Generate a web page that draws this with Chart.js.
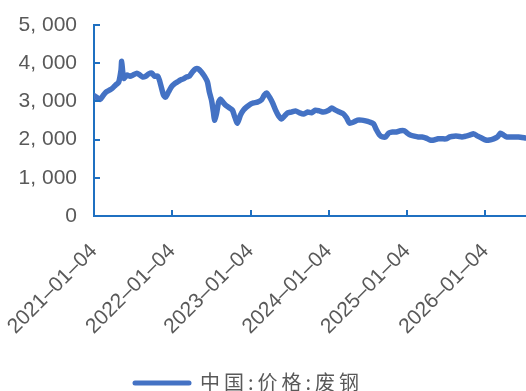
<!DOCTYPE html>
<html>
<head>
<meta charset="utf-8">
<script src="https://cdn.jsdelivr.net/npm/chart.js@4.4.1/dist/chart.umd.min.js"></script>
<style>
  html, body { margin: 0; padding: 0; background: #fff; }
  #wrap { width: 526px; height: 391px; }
</style>
</head>
<body>
<div id="wrap"><canvas id="chart"></canvas></div>
<script>
const seriesName = '中国:价格:废钢';

const dates = [
  '2021-01-04', '2021-01-18', '2021-02-01', '2021-02-15', '2021-03-01', '2021-03-19',
  '2021-04-01', '2021-04-15', '2021-04-29', '2021-05-10', '2021-05-13', '2021-05-18',
  '2021-05-24', '2021-06-07', '2021-06-21', '2021-07-05', '2021-07-23', '2021-08-06',
  '2021-08-19', '2021-09-02', '2021-09-16', '2021-09-30', '2021-10-14', '2021-10-28',
  '2021-11-05', '2021-11-15', '2021-11-24', '2021-12-03', '2021-12-17', '2021-12-31',
  '2022-01-14', '2022-01-28', '2022-02-11', '2022-02-25', '2022-03-11', '2022-03-25',
  '2022-04-08', '2022-04-22', '2022-05-06', '2022-05-20', '2022-06-03', '2022-06-17',
  '2022-06-26', '2022-07-06', '2022-07-15', '2022-07-20', '2022-07-29', '2022-08-08',
  '2022-08-17', '2022-08-31', '2022-09-14', '2022-09-28', '2022-10-12', '2022-10-21',
  '2022-11-04', '2022-11-18', '2022-12-02', '2022-12-16', '2023-01-04', '2023-01-18',
  '2023-02-05', '2023-02-24', '2023-03-10', '2023-03-20', '2023-04-03', '2023-04-17',
  '2023-05-01', '2023-05-15', '2023-05-29', '2023-06-12', '2023-06-26', '2023-07-14',
  '2023-08-02', '2023-08-21', '2023-09-08', '2023-09-27', '2023-10-15', '2023-11-03',
  '2023-11-21', '2023-12-10', '2024-01-04', '2024-01-18', '2024-02-05', '2024-02-24',
  '2024-03-13', '2024-03-27', '2024-04-10', '2024-04-29', '2024-05-17', '2024-06-05',
  '2024-06-24', '2024-07-12', '2024-07-31', '2024-08-14', '2024-08-28', '2024-09-11',
  '2024-09-25', '2024-10-09', '2024-10-27', '2024-11-15', '2024-12-03', '2024-12-22',
  '2025-01-04', '2025-01-18', '2025-02-06', '2025-02-24', '2025-03-14', '2025-04-02',
  '2025-04-21', '2025-05-09', '2025-05-28', '2025-06-15', '2025-07-04', '2025-07-22',
  '2025-08-10', '2025-08-28', '2025-09-16', '2025-10-04', '2025-10-23', '2025-11-10',
  '2025-11-29', '2025-12-17', '2026-01-05', '2026-01-23', '2026-02-11', '2026-03-01',
  '2026-03-15', '2026-03-29', '2026-04-12', '2026-05-01', '2026-05-19', '2026-06-07',
  '2026-07-12'
];

const prices = [
  3150, 3100, 3050, 3150, 3240, 3300,
  3350, 3430, 3500, 3820, 4050, 3770,
  3600, 3690, 3660, 3690, 3740, 3690,
  3640, 3660, 3720, 3740, 3660, 3660,
  3560, 3350, 3170, 3110, 3240, 3380,
  3460, 3510, 3560, 3590, 3640, 3660,
  3770, 3850, 3850, 3770, 3660, 3510,
  3250, 3040, 2720, 2510, 2670, 2980,
  3060, 2960, 2880, 2830, 2770, 2620,
  2430, 2640, 2770, 2850, 2930, 2960,
  2980, 3040, 3170, 3220, 3110, 2960,
  2770, 2620, 2540, 2620, 2700, 2720,
  2750, 2700, 2670, 2720, 2700, 2770,
  2750, 2720, 2770, 2830, 2770, 2720,
  2670, 2570, 2430, 2460, 2510, 2510,
  2490, 2460, 2410, 2250, 2120, 2070,
  2070, 2170, 2200, 2200, 2230, 2230,
  2170, 2120, 2090, 2070, 2070, 2040,
  1990, 1990, 2020, 2020, 2020, 2070,
  2090, 2090, 2070, 2090, 2120, 2150,
  2090, 2040, 1990, 1990, 2020, 2070,
  2170, 2120, 2070, 2070, 2070, 2070,
  2040
];

const yearTicks = ['2021-01-04', '2022-01-04', '2023-01-04', '2024-01-04', '2025-01-04', '2026-01-04'];

const lineColor = '#4472C4';
const axisColor = '#1F70C1';
const textColor = '#595959';

const DAY = 864e5;
const origin = Date.parse(yearTicks[0]);
const dayOffset = d => Math.round((Date.parse(d) - origin) / DAY);

const points = dates.map((d, i) => ({ x: dayOffset(d), y: prices[i] }));

// short tick marks pointing into the plot, plus the legend below the axis labels
const innerTicks = {
  id: 'innerTicks',
  afterDraw(chart) {
    const { ctx, scales: { x, y } } = chart;
    ctx.save();
    ctx.strokeStyle = axisColor;
    ctx.lineWidth = 2;
    ctx.beginPath();
    y.ticks.forEach(t => {
      const py = Math.round(y.getPixelForValue(t.value));
      ctx.moveTo(x.left, py);
      ctx.lineTo(x.left + 6, py);
    });
    x.ticks.forEach(t => {
      const px = Math.round(x.getPixelForValue(t.value));
      ctx.moveTo(px, y.bottom);
      ctx.lineTo(px, y.bottom - 6);
    });
    ctx.stroke();

    // legend
    ctx.strokeStyle = lineColor;
    ctx.lineWidth = 5;
    ctx.lineCap = 'round';
    ctx.beginPath();
    ctx.moveTo(135, 383);
    ctx.lineTo(189, 383);
    ctx.stroke();
    ctx.fillStyle = textColor;
    ctx.font = '20px "Noto Sans CJK SC"';
    ctx.letterSpacing = '4px';
    ctx.textBaseline = 'middle';
    ctx.textAlign = 'left';
    ctx.fillText(seriesName, 200, 382);
    ctx.restore();
  }
};

new Chart(document.getElementById('chart'), {
  type: 'line',
  data: {
    datasets: [{
      label: seriesName,
      data: points,
      borderColor: lineColor,
      borderWidth: 5.5,
      pointRadius: 0,
      tension: 0.2,
      borderJoinStyle: 'round',
      borderCapStyle: 'round'
    }]
  },
  options: {
    responsive: true,
    maintainAspectRatio: false,
    animation: false,
    devicePixelRatio: 1,
    layout: { padding: { top: 25, right: 0, bottom: 0, left: 0 } },
    plugins: {
      legend: { display: false },
      tooltip: { enabled: false }
    },
    scales: {
      x: {
        type: 'linear',
        min: 0,
        max: dayOffset(dates[dates.length - 1]),
        grid: { display: false, drawTicks: false },
        border: { display: true, color: axisColor, width: 2 },
        afterBuildTicks: scale => {
          scale.ticks = yearTicks.map(d => ({ value: dayOffset(d) }));
        },
        afterFit: scale => {
          scale.height = 175;
          scale.paddingLeft = 0;
          scale.paddingRight = 0;
        },
        ticks: {
          autoSkip: false,
          minRotation: 45,
          maxRotation: 45,
          padding: 23,
          color: textColor,
          font: { family: 'Liberation Sans, Arial, sans-serif', size: 21 },
          callback: v => {
            const d = yearTicks.find(t => dayOffset(t) === v);
            return d ? d.replace(/-/g, '–') : '';
          }
        }
      },
      y: {
        min: 0,
        max: 5000,
        grid: { display: false, drawTicks: false },
        border: { display: true, color: axisColor, width: 2 },
        afterFit: scale => {
          scale.width = 94;
          scale.paddingTop = 0;
          scale.paddingBottom = 0;
        },
        ticks: {
          stepSize: 1000,
          padding: 17,
          color: textColor,
          font: { family: 'Liberation Sans, Arial, sans-serif', size: 21 },
          callback: v => v === 0 ? '0' : Math.floor(v / 1000) + ', ' + String(v % 1000).padStart(3, '0')
        }
      }
    }
  },
  plugins: [innerTicks]
});
</script>
</body>
</html>
